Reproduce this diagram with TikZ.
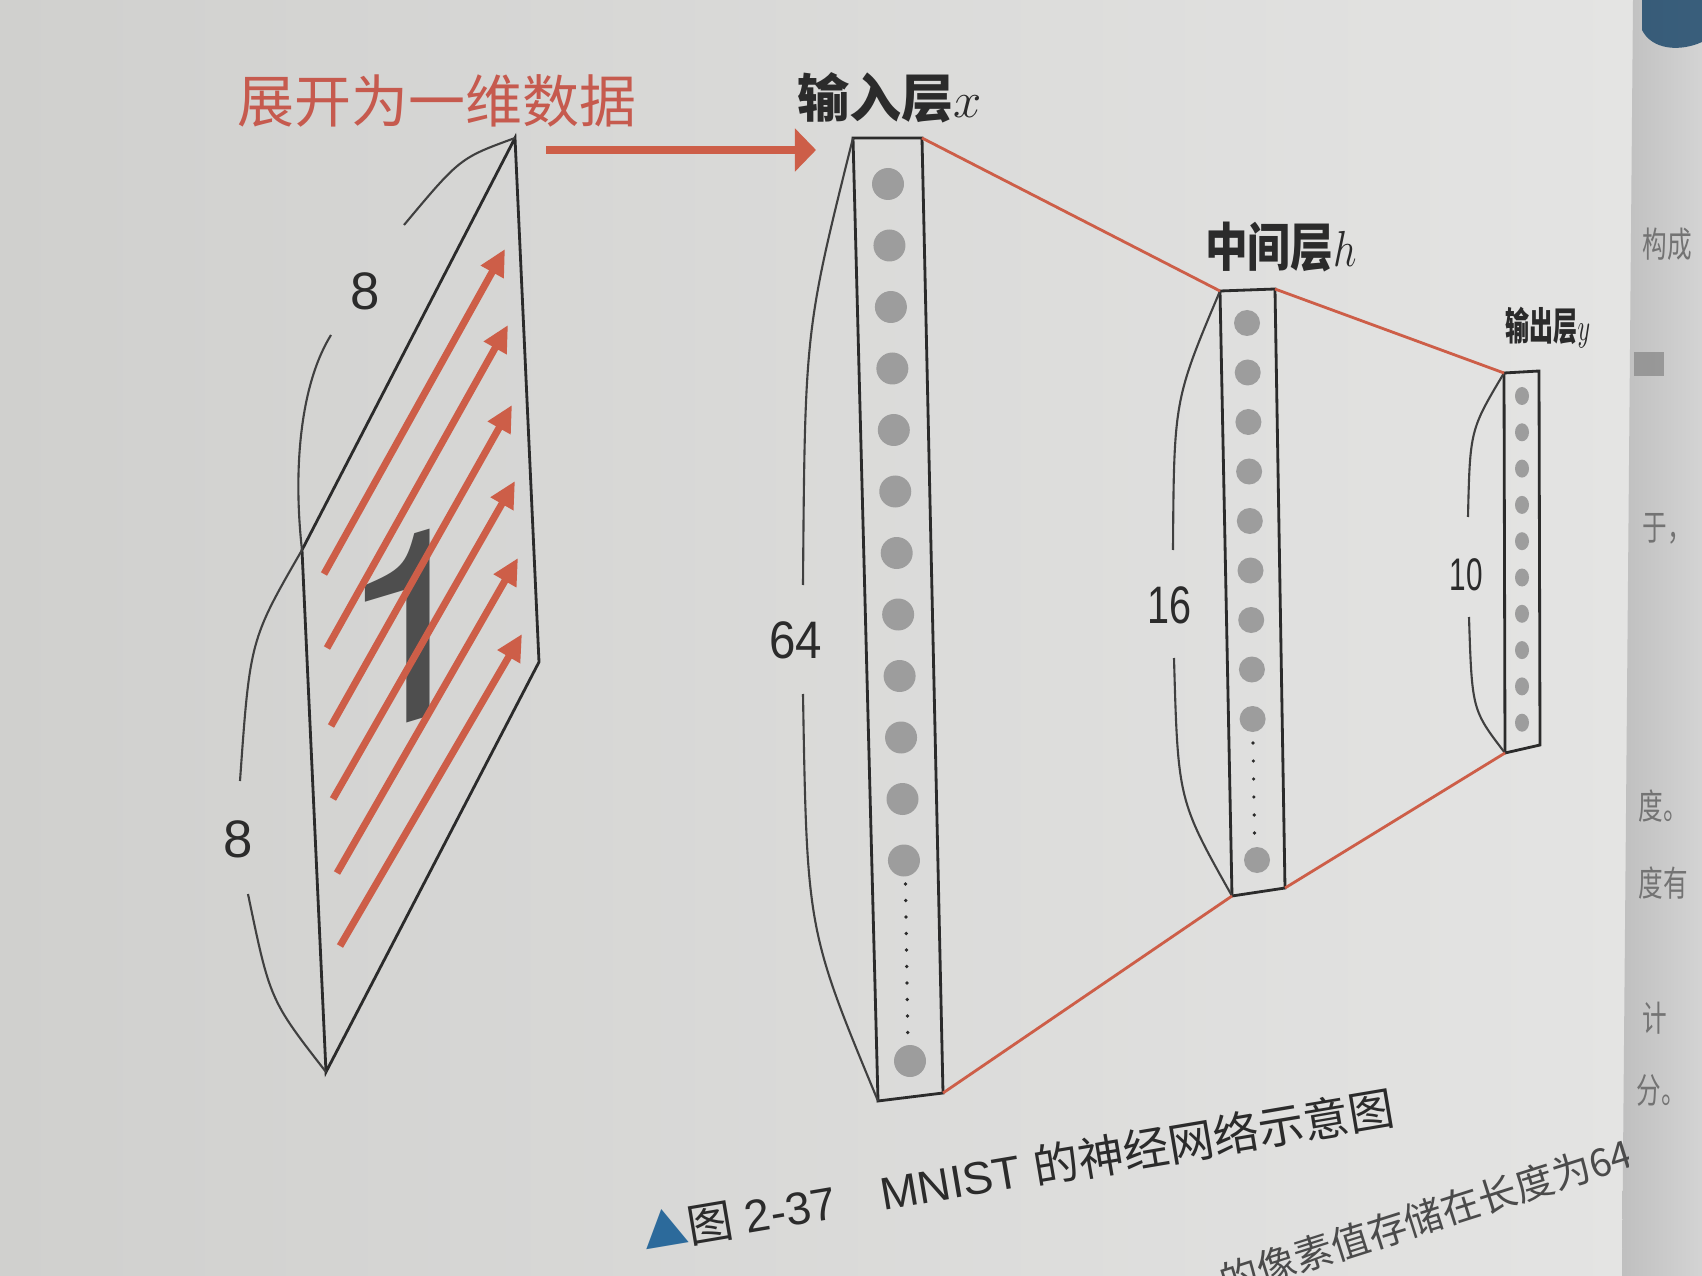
\documentclass[tikz,border=0pt]{standalone}
\usepackage{fontspec}
\setmainfont{Liberation Sans}
\newfontfamily\cjk{Noto Sans CJK SC}
\newfontfamily\heros{TeX Gyre Heros}
\usetikzlibrary{arrows.meta}

\definecolor{bgL}{HTML}{D0D0CE}
\definecolor{bgR}{HTML}{E4E4E3}
\definecolor{ink}{HTML}{2B2B2B}
\definecolor{redtxt}{HTML}{C65A4E}
\definecolor{redln}{HTML}{CD5E48}
\definecolor{dotgray}{HTML}{9D9D9D}
\definecolor{digit}{HTML}{4E4E4E}
\definecolor{capblue}{HTML}{2C6A9B}

\begin{document}
\begin{tikzpicture}[x=0.01cm,y=-0.01cm,
    layer/.style={draw=ink,line width=0.8pt},
    link/.style={draw=redln,line width=0.8pt},
    brace/.style={draw=ink!90,line width=0.6pt},
    flat/.style={draw=redln,line width=2pt,-{Triangle[length=7.5pt,width=7pt]}},
    neuron/.style={fill=dotgray},
    num/.style={font=\fontsize{15}{15}\selectfont,text=ink,inner sep=0pt},
    title/.style={font=\cjk\bfseries\fontsize{14.8}{16}\selectfont,text=ink,inner sep=0pt},
    side/.style={text=black!55,font=\cjk\fontsize{10}{10}\selectfont,xscale=.7,anchor=west}]

  \useasboundingbox (0,0) rectangle (1702,1276);
  % paper and the next page
  \shade[left color=bgL,right color=bgR] (0,0) rectangle (1633,1276);
  \shade[left color=black!25,right color=black!17] (1633,0) -- (1702,0) -- (1702,1276) -- (1622,1276) -- cycle;
  \fill[capblue!70!black,opacity=.85] (1642,0) -- (1702,0) -- (1702,42) .. controls (1680,52) and (1652,50) .. (1642,30) -- cycle;
  \fill[black!45,opacity=.8] (1634,352) rectangle (1664,376);
  \node[side] (r1) at (1634,244) {构成};
  \node[side] (r2) at (1634,529) {于，};
  \node[side] (r3) at (1630,806) {度。};
  \node[side] (r4) at (1630,883) {度有};
  \node[side] (r5) at (1634,1018) {计};
  \node[side] (r6) at (1628,1091) {分。};

  % the 8x8 image
  \coordinate (p1) at (515,138);
  \coordinate (p2) at (539,662);
  \coordinate (p3) at (326,1072);
  \coordinate (p4) at (302,550);
  \node[font=\heros\fontsize{75}{75}\selectfont,text=digit,yslant=0.3,inner sep=0pt] (one) at (412,628) {1};
  \draw[layer] (p1) -- (p2) -- (p3) -- (p4) -- cycle;
  \foreach \a/\b/\c/\d in {324/574/505/249, 327/648/508/325, 331/726/512/405,
                           333/799/515/481, 337/873/518/558, 340/946/522/634}
    \draw[flat] (\a,\b) -- (\c,\d);

  \draw[brace] (p1) .. controls (460,158) .. (404,225);
  \draw[brace] (331,335) .. controls (300,385) and (293,470) .. (p4);
  \draw[brace] (p4) .. controls (250,640) .. (240,781);
  \draw[brace] (248,894) .. controls (270,1000) .. (p3);
  \node[num] (w) at (365,291) {8};
  \node[num] (ht) at (238,839) {8};

  % flatten
  \node[font=\cjk\fontsize{16.2}{18}\selectfont,text=redtxt,inner sep=0pt] (flat) at (437,101) {展开为一维数据};
  \coordinate (src) at (546,150);
  \coordinate (dst) at (816,150);
  \draw[draw=redln,line width=2.3pt,-{Triangle[length=6pt,width=12pt]}] (src) -- (dst);

  % input layer
  \coordinate (i1) at (853,138);
  \coordinate (i2) at (922,138);
  \coordinate (i3) at (943,1093);
  \coordinate (i4) at (878,1101);
  \node[title] (xin) at (890,98) {输入层$x$};
  \draw[layer] (i1) -- (i2) -- (i3) -- (i4) -- cycle;
  \foreach \k in {0,...,11}
    \fill[neuron] ({888+\k*1.45},{184+\k*61.5}) circle[radius=16];
  \foreach \k in {0,...,9}
    \fill[ink] ({905.5+\k*0.25},{884+\k*16.5}) circle[radius=1.8];
  \fill[neuron] (910,1061) circle[radius=16];
  \draw[brace] (i1) .. controls (805,330) .. (803,585);
  \draw[brace] (803,694) .. controls (807,930) .. (i4);
  \node[num,xscale=.9] (n64) at (796,640) {64};

  % hidden layer
  \coordinate (h1) at (1220,291);
  \coordinate (h2) at (1275,289);
  \coordinate (h3) at (1285,888);
  \coordinate (h4) at (1232,896);
  \node[title,xscale=.82] (hmid) at (1281,247) {中间层$h$};
  \draw[layer] (h1) -- (h2) -- (h3) -- (h4) -- cycle;
  \foreach \k in {0,...,8}
    \fill[neuron] ({1247+\k*0.7},{323+\k*49.5}) circle[radius=13];
  \foreach \k in {0,...,5}
    \fill[ink] ({1253+\k*0.3},{743+\k*18}) circle[radius=1.8];
  \fill[neuron] (1257,860) circle[radius=13];
  \draw[brace] (h1) .. controls (1174,400) .. (1173,550);
  \draw[brace] (1174,658) .. controls (1178,800) .. (h4);
  \node[num,xscale=.75] (n16) at (1169,605) {16};

  % output layer
  \coordinate (o1) at (1504,373);
  \coordinate (o2) at (1539,371);
  \coordinate (o3) at (1540,745);
  \coordinate (o4) at (1505,753);
  \node[title,font=\cjk\bfseries\fontsize{11}{12}\selectfont,xscale=.62] (yout) at (1548,328) {输出层$y$};
  \draw[layer] (o1) -- (o2) -- (o3) -- (o4) -- cycle;
  \foreach \k in {0,...,9}
    \fill[neuron] (1522,{396+\k*36.3}) ellipse[x radius=7,y radius=9];
  \draw[brace] (o1) .. controls (1470,430) .. (1468,517);
  \draw[brace] (1469,617) .. controls (1472,710) .. (o4);
  \node[num,font=\fontsize{13}{13}\selectfont,xscale=.65] (n10) at (1466,575) {10};

  % links
  \draw[link] (i2) -- (h1);
  \draw[link] (i3) -- (h4);
  \draw[link] (h2) -- (o1);
  \draw[link] (h3) -- (o4);

  % caption
  \node[rotate=9.6,text=ink,font=\fontsize{13}{13}\selectfont,inner sep=0pt] (cap) at (1018,1170)
    {{\cjk\color{capblue}▲}{\cjk 图} 2-37\quad MNIST {\cjk 的神经网络示意图}};
  \begin{scope}
    \clip (0,0) rectangle (1628,1276);
    \node[rotate=17.6,text=ink!85,font=\cjk\fontsize{11}{11}\selectfont,inner sep=0pt,anchor=south west] (body) at (1226,1300)
      {的像素值存储在长度为64};
  \end{scope}
\end{tikzpicture}
\end{document}
